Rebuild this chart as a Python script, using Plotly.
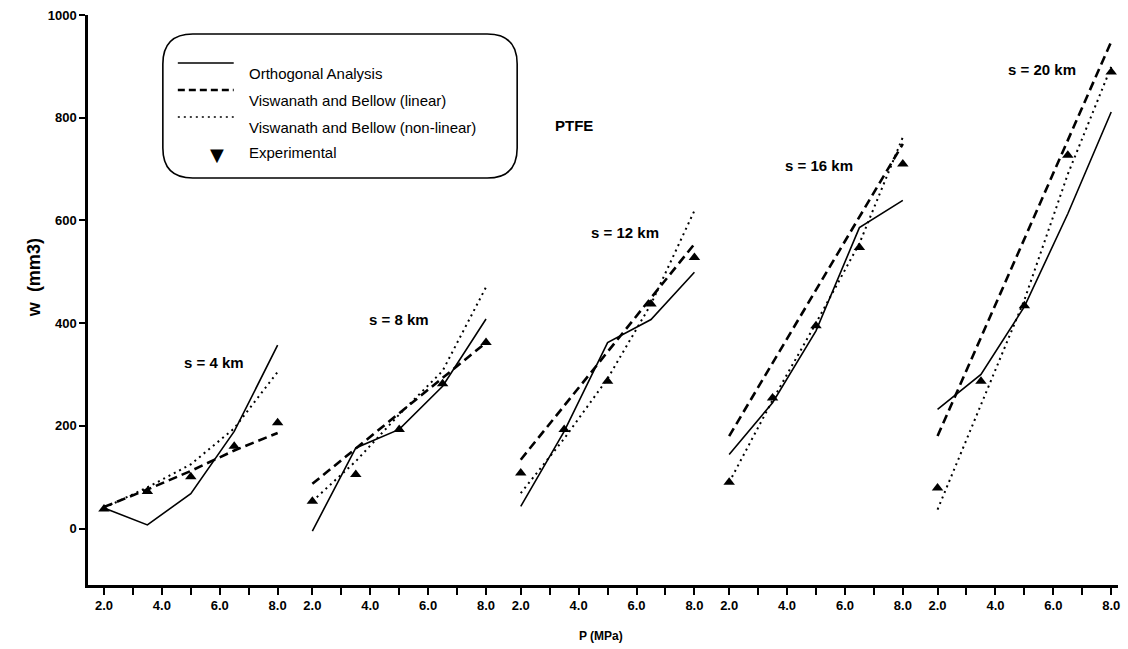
import plotly.graph_objects as go

# ---------------- data ----------------
slide_km = [4, 8, 12, 16, 20]
group_labels = ["s = 4 km", "s = 8 km", "s = 12 km", "s = 16 km", "s = 20 km"]
pressure = [2.0, 3.5, 5.0, 6.5, 8.0]          # P (MPa) within each group

experimental = [
    [38, 72, 101, 160, 206],
    [53, 105, 193, 282, 362],
    [108, 193, 287, 437, 528],
    [90, 254, 395, 547, 710],
    [79, 287, 434, 727, 889],
]
orthogonal = [
    [40, 7, 68, 189, 357],
    [-5, 157, 193, 277, 408],
    [43, 189, 362, 407, 499],
    [144, 245, 385, 586, 639],
    [232, 300, 432, 613, 811],
]
vb_linear = [
    [42, 76, 112, 152, 186],
    [87, 156, 225, 294, 362],
    [134, 239, 344, 449, 554],
    [180, 322, 465, 607, 749],
    [180, 372, 564, 756, 948],
]
vb_nonlinear = [
    [40, 80, 125, 195, 305],
    [53, 131, 222, 307, 470],
    [69, 175, 292, 437, 619],
    [90, 250, 400, 555, 762],
    [37, 240, 445, 690, 899],
]
label_p = [5.8, 5.0, 5.6, 5.1, 5.6]
label_w = [323, 408, 577, 707, 893]

tick_p = [2, 3, 4, 5, 6, 7, 8]
tick_text = ["2.0", "", "4.0", "", "6.0", "", "8.0"]
y_ticks = [0, 200, 400, 600, 800, 1000]

GROUP_SHIFT = 7.2
FONT = "Liberation Sans"


def joined(series):
    xs, ys = [], []
    for g, vals in enumerate(series):
        xs += [p + g * GROUP_SHIFT for p in pressure] + [None]
        ys += list(vals) + [None]
    return xs, ys


fig = go.Figure()

x, y = joined(orthogonal)
fig.add_trace(go.Scatter(x=x, y=y, mode="lines", name="Orthogonal Analysis",
                         line=dict(color="black", width=1.6), showlegend=False))
x, y = joined(vb_linear)
fig.add_trace(go.Scatter(x=x, y=y, mode="lines", name="Viswanath and Bellow (linear)",
                         line=dict(color="black", width=2.6, dash="9px,5px"), showlegend=False))
x, y = joined(vb_nonlinear)
fig.add_trace(go.Scatter(x=x, y=y, mode="lines", name="Viswanath and Bellow (non-linear)",
                         line=dict(color="black", width=2, dash="2px,4px"), showlegend=False))
x, y = joined(experimental)
fig.add_trace(go.Scatter(x=[v for v in x if v is not None], y=[v for v in y if v is not None],
                         mode="markers", name="Experimental",
                         marker=dict(symbol="triangle-up", size=10, color="black"), showlegend=False))

# group labels
annotations = []
for g, lab in enumerate(group_labels):
    annotations.append(dict(x=label_p[g] + g * GROUP_SHIFT, y=label_w[g], xref="x", yref="y",
                            text=lab, showarrow=False,
                            font=dict(family=FONT, size=15, color="black", weight="bold")))
annotations.append(dict(x=3.85 + 2 * GROUP_SHIFT, y=785, xref="x", yref="y", text="PTFE",
                        showarrow=False, font=dict(family=FONT, size=15, color="black", weight="bold")))

# plot area in pixels
L, R, T, B = 88, 1120, 15, 585
W, H = R - L, B - T


def px(xp, yp):
    return (xp - L) / W, (B - yp) / H


# axis titles
annotations.append(dict(x=px(602, 0)[0], y=px(0, 645)[1], xref="paper", yref="paper",
                        text="P (MPa)", showarrow=False,
                        font=dict(family=FONT, size=12, color="black", weight="bold")))
annotations.append(dict(x=px(22, 0)[0], y=px(0, 278)[1], xref="paper", yref="paper",
                        text="w  (mm3)", showarrow=False, textangle=-90,
                        font=dict(family=FONT, size=18, color="black", weight="bold")))

# manual legend
shapes = []
bx0, bx1, by0, by1, r = 163, 518, 34, 178, 30


def P(a, b):
    u, v = px(a, b)
    return f"{u:.5f},{v:.5f}"


path = (f"M {P(bx0 + r, by0)} L {P(bx1 - r, by0)} Q {P(bx1, by0)} {P(bx1, by0 + r)} "
        f"L {P(bx1, by1 - r)} Q {P(bx1, by1)} {P(bx1 - r, by1)} "
        f"L {P(bx0 + r, by1)} Q {P(bx0, by1)} {P(bx0, by1 - r)} "
        f"L {P(bx0, by0 + r)} Q {P(bx0, by0)} {P(bx0 + r, by0)} Z")
shapes.append(dict(type="path", xref="paper", yref="paper", path=path,
                   line=dict(color="black", width=1.6), fillcolor="white", layer="above"))

legend_rows = [63, 90, 117, 142]
legend_names = ["Orthogonal Analysis", "Viswanath and Bellow (linear)",
                "Viswanath and Bellow (non-linear)", "Experimental"]
styles = [dict(width=1.6, dash="solid"), dict(width=2.4, dash="7px,4px"),
          dict(width=1.6, dash="2px,4px")]
for i, st in enumerate(styles):
    x0p, yp = px(178, legend_rows[i])
    x1p, _ = px(234, legend_rows[i])
    shapes.append(dict(type="line", xref="paper", yref="paper", x0=x0p, x1=x1p, y0=yp, y1=yp,
                       line=dict(color="black", **st), layer="above"))
mx, my = px(208, legend_rows[3])
annotations.append(dict(x=mx, y=my, xref="paper", yref="paper", text="▼", showarrow=False,
                        font=dict(family="DejaVu Sans", size=18, color="black")))
for i, nm in enumerate(legend_names):
    tx, ty = px(247, legend_rows[i])
    annotations.append(dict(x=tx, y=ty, xref="paper", yref="paper", text=nm, showarrow=False,
                            xanchor="left", font=dict(family=FONT, size=15, color="black")))

tickvals, ticktext = [], []
for g in range(len(slide_km)):
    tickvals += [p + g * GROUP_SHIFT for p in tick_p]
    ticktext += tick_text

x_min = 2 - (104 - L) / 29.0
x_max = x_min + W / 29.0

fig.update_layout(
    width=1128, height=649,
    margin=dict(l=L, r=1128 - R, t=T, b=649 - B),
    paper_bgcolor="white", plot_bgcolor="white",
    showlegend=False,
    annotations=annotations, shapes=shapes,
    xaxis=dict(range=[x_min, x_max], tickvals=tickvals, ticktext=ticktext,
               showline=True, linecolor="black", linewidth=2.5, ticks="outside",
               ticklen=7, tickwidth=1.6, tickcolor="black", showgrid=False, zeroline=False,
               tickfont=dict(family=FONT, size=13, color="black", weight="bold")),
    yaxis=dict(range=[-110, 1000], tickvals=y_ticks,
               showline=True, linecolor="black", linewidth=2.5, ticks="outside",
               ticklen=6, tickwidth=1.6, tickcolor="black", showgrid=False, zeroline=False,
               tickfont=dict(family=FONT, size=13, color="black", weight="bold")),
)

fig.write_html("out.html")
